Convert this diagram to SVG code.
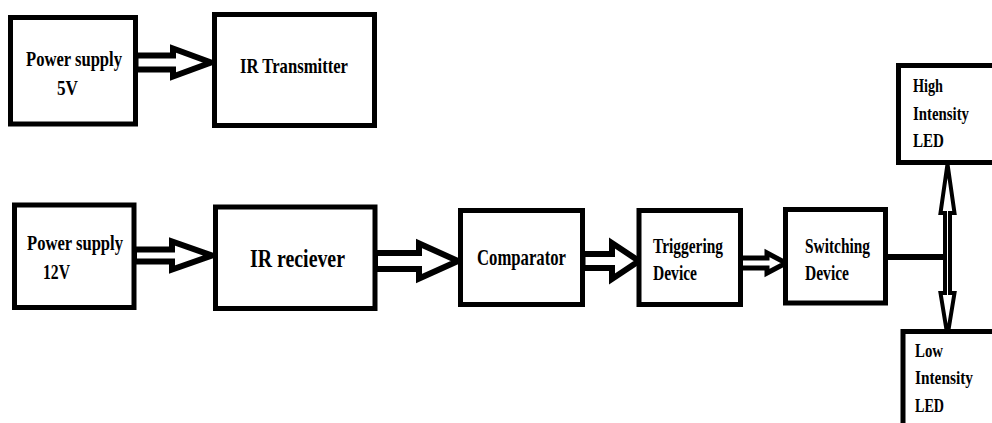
<svg xmlns="http://www.w3.org/2000/svg" width="992" height="423" viewBox="0 0 992 423">
  <style>
    .box { fill: #fff; stroke: #000; stroke-width: 5; }
    .lbl { font-family: "Liberation Serif", "Times New Roman", serif; font-weight: bold; fill: #000; }
    .arrow { fill: #fff; stroke: #000; stroke-width: 6; stroke-linejoin: miter; }
    .thin { stroke-width: 5; }
    .wire { stroke: #000; stroke-width: 6; fill: none; }
  </style>
  <rect width="992" height="423" fill="#fff"/>

  <!-- connectors -->
  <g id="connectors">
    <polygon class="arrow" points="135.5,55.5 173,55.5 173,48.5 211,62.5 173,76.5 173,69.5 135.5,69.5"/>
    <polygon class="arrow" points="134,249.5 172,249.5 172,241.5 212,255.5 172,269.5 172,261.5 134,261.5"/>
    <polygon class="arrow" points="375,253 419,253 419,243.5 458,261 419,278.5 419,269 375,269"/>
    <polygon class="arrow" points="582.5,254 612,254 612,243 639,261 612,279 612,268 582.5,268"/>
    <polygon class="arrow thin" points="740.5,258 767,258 767,253 786,263 767,273 767,268 740.5,268"/>
    <line class="wire" x1="885.5" y1="257" x2="946" y2="257"/>
    <polygon class="arrow" style="stroke-width:4" points="947.5,164 954.5,213 950,213 950,293 954.5,293 947.5,336 940.5,293 945,293 945,213 940.5,213"/>
  </g>

  <g id="ps5">
    <rect class="box" x="10.5" y="17.5" width="125" height="106.5"/>
    <text class="lbl" x="26" y="66" font-size="22" textLength="96" lengthAdjust="spacingAndGlyphs">Power supply</text>
    <text class="lbl" x="57" y="95" font-size="22" textLength="21" lengthAdjust="spacingAndGlyphs">5V</text>
  </g>

  <g id="ir-transmitter">
    <rect class="box" x="214.5" y="14.5" width="160" height="111"/>
    <text class="lbl" x="240" y="73" font-size="21" textLength="108" lengthAdjust="spacingAndGlyphs">IR Transmitter</text>
  </g>

  <g id="ps12">
    <rect class="box" x="14.5" y="205" width="119.5" height="102.5"/>
    <text class="lbl" x="27" y="250" font-size="22" textLength="96" lengthAdjust="spacingAndGlyphs">Power supply</text>
    <text class="lbl" x="43" y="279" font-size="22" textLength="27" lengthAdjust="spacingAndGlyphs">12V</text>
  </g>

  <g id="ir-receiver">
    <rect class="box" x="215.5" y="207" width="159.5" height="101.5"/>
    <text class="lbl" x="250" y="267" font-size="26" textLength="95" lengthAdjust="spacingAndGlyphs">IR reciever</text>
  </g>

  <g id="comparator">
    <rect class="box" x="460.5" y="210.5" width="122" height="94"/>
    <text class="lbl" x="477" y="265" font-size="23" textLength="89" lengthAdjust="spacingAndGlyphs">Comparator</text>
  </g>

  <g id="triggering">
    <rect class="box" x="639" y="210.5" width="101.5" height="94"/>
    <text class="lbl" x="653" y="253" font-size="21" textLength="70" lengthAdjust="spacingAndGlyphs">Triggering</text>
    <text class="lbl" x="653" y="280" font-size="21" textLength="44" lengthAdjust="spacingAndGlyphs">Device</text>
  </g>

  <g id="switching">
    <rect class="box" x="785.5" y="209.5" width="100" height="93.5"/>
    <text class="lbl" x="805" y="253" font-size="21" textLength="65" lengthAdjust="spacingAndGlyphs">Switching</text>
    <text class="lbl" x="805" y="280" font-size="21" textLength="44" lengthAdjust="spacingAndGlyphs">Device</text>
  </g>

  <g id="high-led">
    <rect class="box" x="898.5" y="65.5" width="110" height="97"/>
    <text class="lbl" x="913" y="92" font-size="19" textLength="30" lengthAdjust="spacingAndGlyphs">High</text>
    <text class="lbl" x="913" y="120" font-size="19" textLength="56" lengthAdjust="spacingAndGlyphs">Intensity</text>
    <text class="lbl" x="913" y="147" font-size="19" textLength="31" lengthAdjust="spacingAndGlyphs">LED</text>
  </g>

  <g id="low-led">
    <rect class="box" x="903" y="331.5" width="110" height="110"/>
    <text class="lbl" x="915" y="357" font-size="19" textLength="28" lengthAdjust="spacingAndGlyphs">Low</text>
    <text class="lbl" x="915" y="384" font-size="19" textLength="58" lengthAdjust="spacingAndGlyphs">Intensity</text>
    <text class="lbl" x="915" y="412" font-size="19" textLength="29" lengthAdjust="spacingAndGlyphs">LED</text>
  </g>
</svg>
